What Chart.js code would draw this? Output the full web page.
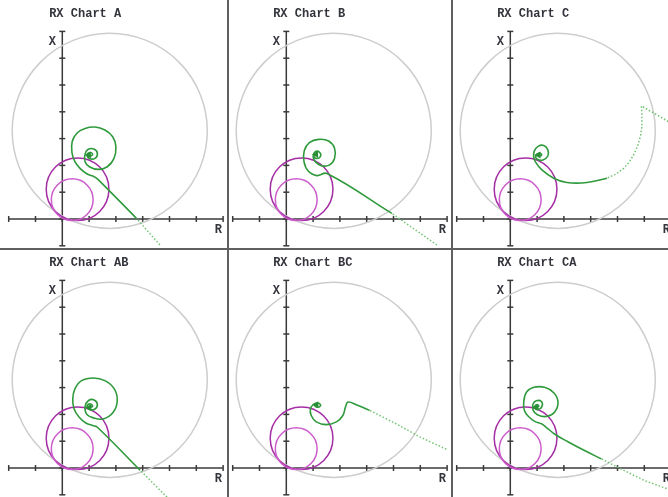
<!DOCTYPE html>
<html>
<head>
<meta charset="utf-8">
<script src="https://cdn.jsdelivr.net/npm/chart.js@4.4.1/dist/chart.umd.min.js"></script>
<style>
  html, body { margin: 0; padding: 0; background: #fff; overflow: hidden; width: 668px; height: 497px; }
  canvas { position: absolute; }
  .vline { position: absolute; top: 0; width: 2px; height: 497px; background: #606060; }
  .hline { position: absolute; left: 0; height: 2px; width: 668px; background: #606060; }
</style>
</head>
<body>
<div id="wrap"></div>
<script>
// panel titles
const panelTitles = ['RX Chart A', 'RX Chart B', 'RX Chart C', 'RX Chart AB', 'RX Chart BC', 'RX Chart CA'];

// axis ticks (R and X units)
const rTicks = [-2, -1, 0, 1, 2, 3, 4, 5, 6];
const xTicks = [-1, 0, 1, 2, 3, 4, 5, 6, 7];

// characteristic circles: [centre R, centre X, radius]
const outerCircle = [1.77, 3.29, 3.64];
const zoneCircle2 = [0.57, 1.11, 1.17];
const zoneCircle1 = [0.37, 0.72, 0.78];

// impedance trajectories: dotted fast part (tail) and solid part (body)
const tailA = [[3.64, -0.97], [2.77, 0.02]];
const bodyA = [[2.77, 0.02], [1.32, 1.49], [1.19, 1.58], [0.93, 1.68], [0.66, 1.89], [0.47, 2.14], [0.36, 2.48],
  [0.37, 2.89], [0.56, 3.22], [0.85, 3.38], [1.22, 3.43], [1.59, 3.32], [1.88, 3.07], [2.0, 2.70], [1.93, 2.26],
  [1.68, 1.95], [1.34, 1.85], [1.01, 1.95], [0.85, 2.14], [0.85, 2.43], [0.97, 2.60], [1.18, 2.61], [1.31, 2.45],
  [1.22, 2.26], [1.01, 2.26], [0.93, 2.39], [1.03, 2.48], [1.13, 2.43], [1.06, 2.35], [0.99, 2.39]];

const tailB = [[5.62, -0.97], [3.94, 0.21]];
const bodyB = [[3.94, 0.21], [1.52, 1.70], [1.14, 1.62], [0.81, 1.80], [0.66, 2.14], [0.67, 2.55], [0.86, 2.85],
  [1.21, 2.97], [1.58, 2.91], [1.80, 2.64], [1.80, 2.26], [1.60, 2.01], [1.31, 1.99], [1.08, 2.14], [1.00, 2.33],
  [1.08, 2.51], [1.24, 2.49], [1.27, 2.33], [1.11, 2.26], [1.02, 2.36], [1.11, 2.41]];

const tailC = [[6.4, 3.5], [5.91, 3.63], [4.89, 4.22], [4.91, 3.94], [4.91, 3.45], [4.86, 3.10], [4.75, 2.72],
  [4.60, 2.39], [4.42, 2.10], [4.23, 1.89], [3.95, 1.68], [3.61, 1.52]];
const bodyC = [[3.61, 1.52], [2.86, 1.36], [2.11, 1.36], [1.62, 1.52], [1.18, 1.83], [0.93, 2.14], [0.87, 2.33],
  [0.90, 2.55], [1.05, 2.72], [1.25, 2.74], [1.40, 2.58], [1.40, 2.35], [1.22, 2.20], [1.02, 2.22], [0.95, 2.35],
  [1.08, 2.46], [1.17, 2.40], [1.08, 2.35], [1.05, 2.39]];

const tailAB = [[4.0, -1.18], [2.9, -0.08]];
const bodyAB = [[2.9, -0.08], [1.31, 1.52], [1.16, 1.58], [0.88, 1.68], [0.63, 1.89], [0.44, 2.20], [0.39, 2.57],
  [0.47, 2.95], [0.72, 3.26], [1.16, 3.36], [1.59, 3.26], [1.94, 2.95], [2.05, 2.51], [1.90, 2.08], [1.53, 1.83],
  [1.16, 1.87], [0.91, 2.01], [0.85, 2.29], [0.97, 2.51], [1.19, 2.54], [1.31, 2.36], [1.19, 2.18], [0.98, 2.20],
  [0.93, 2.33], [1.06, 2.39], [1.13, 2.30], [1.01, 2.26]];

const tailBC = [[5.97, 0.70], [4.98, 1.16], [4.10, 1.65], [3.11, 2.15]];
const bodyBC = [[3.11, 2.15], [2.61, 2.36], [2.30, 2.46], [2.21, 2.28], [2.11, 1.96], [1.87, 1.72], [1.49, 1.62],
  [1.12, 1.72], [0.93, 1.96], [0.90, 2.20], [1.00, 2.36], [1.15, 2.42], [1.28, 2.36], [1.22, 2.28], [1.08, 2.30],
  [1.12, 2.36]];

const tailCA = [[6.3, -1.0], [5.87, -0.78], [5.01, -0.47], [4.14, -0.04], [3.40, 0.34]];
const bodyCA = [[3.40, 0.34], [2.77, 0.65], [2.15, 0.98], [1.65, 1.27], [1.34, 1.52], [1.18, 1.64], [0.91, 1.74],
  [0.68, 1.92], [0.53, 2.14], [0.50, 2.45], [0.60, 2.82], [0.88, 3.01], [1.28, 3.01], [1.63, 2.80], [1.78, 2.45],
  [1.65, 2.08], [1.34, 1.92], [1.01, 1.99], [0.85, 2.16], [0.85, 2.39], [0.97, 2.51], [1.16, 2.48], [1.18, 2.29],
  [1.03, 2.18], [0.91, 2.26], [0.97, 2.36], [1.07, 2.30], [0.97, 2.27]];

const tails = [tailA, tailB, tailC, tailAB, tailBC, tailCA];
const bodies = [bodyA, bodyB, bodyC, bodyAB, bodyBC, bodyCA];

// layout of the 3x2 grid
const PANEL_W = 224, PANEL_H = 249, UNIT = 26.8;
const ORIGIN_X = 58.3, ORIGIN_Y = 219;

const pts = arr => arr.map(p => ({ x: p[0], y: p[1] }));

// circle radius in pixels from the x scale
const circleRadius = ctx => {
  const s = ctx.chart.scales.x;
  if (!s || !ctx.raw) return 0;
  return Math.abs(s.getPixelForValue(ctx.raw.r) - s.getPixelForValue(0));
};
const circleSet = (c, color) => ({
  data: [{ x: c[0], y: c[1], r: c[2] }],
  showLine: false,
  pointStyle: 'circle',
  pointRadius: circleRadius,
  pointBackgroundColor: 'rgba(0,0,0,0)',
  pointBorderColor: color,
  pointBorderWidth: 1.5
});

const textPlugin = {
  id: 'rxText',
  afterDatasetsDraw(chart, args, opts) {
    const { ctx, scales: { x, y } } = chart;
    ctx.save();
    ctx.font = 'bold 12px "Liberation Mono", "DejaVu Sans Mono", monospace';
    ctx.fillStyle = '#33343c';
    ctx.textBaseline = 'middle';
    ctx.textAlign = 'left';
    ctx.fillText(opts.title, x.getPixelForValue(-0.49), y.getPixelForValue(7.66));
    ctx.textAlign = 'center';
    ctx.fillText('X', x.getPixelForValue(-0.37), y.getPixelForValue(6.59));
    ctx.fillText('R', x.getPixelForValue(5.82), y.getPixelForValue(-0.42));
    ctx.restore();
  }
};

const wrap = document.getElementById('wrap');

panelTitles.forEach((title, i) => {
  const col = i % 3, row = Math.floor(i / 3);
  const cv = document.createElement('canvas');
  cv.width = PANEL_W; cv.height = PANEL_H;
  cv.style.left = (4 + col * PANEL_W) + 'px';
  cv.style.top = (row * PANEL_H) + 'px';
  wrap.appendChild(cv);

  const body = pts(bodies[i]);
  new Chart(cv, {
    type: 'scatter',
    data: {
      datasets: [
        {
          data: body,
          showLine: true,
          tension: 0.4,
          borderColor: '#2f9a3c',
          borderWidth: 1.6,
          pointStyle: 'triangle',
          pointRotation: -90,
          pointRadius: ctx => (ctx.dataIndex === body.length - 1 ? 2.5 : 0),
          pointBackgroundColor: '#2a8f36',
          pointBorderColor: '#2a8f36'
        },
        {
          data: pts(tails[i]),
          showLine: true,
          tension: 0,
          borderColor: '#72c472',
          borderWidth: 1.5,
          borderDash: [1.5, 2],
          pointRadius: 0
        },
        circleSet(zoneCircle1, '#cc5ccc'),
        circleSet(zoneCircle2, '#a52ea5'),
        circleSet(outerCircle, '#cdcdcd'),
        {
          data: rTicks.map(v => ({ x: v, y: 0 })),
          showLine: false,
          pointStyle: 'line',
          pointRotation: 90,
          pointRadius: 3,
          pointBorderColor: '#3a3a3a',
          pointBorderWidth: 1.5
        },
        {
          data: xTicks.map(v => ({ x: 0, y: v })),
          showLine: false,
          pointStyle: 'line',
          pointRadius: 3,
          pointBorderColor: '#3a3a3a',
          pointBorderWidth: 1.5
        },
        {
          data: [{ x: rTicks[0], y: 0 }, { x: rTicks[rTicks.length - 1], y: 0 }],
          showLine: true, pointRadius: 0, borderColor: '#3a3a3a', borderWidth: 1.5
        },
        {
          data: [{ x: 0, y: xTicks[0] }, { x: 0, y: xTicks[xTicks.length - 1] }],
          showLine: true, pointRadius: 0, borderColor: '#3a3a3a', borderWidth: 1.5
        }
      ]
    },
    options: {
      responsive: false,
      animation: false,
      events: [],
      devicePixelRatio: 1,
      layout: { padding: 0, autoPadding: false },
      scales: {
        x: { type: 'linear', display: false, bounds: 'data', min: -ORIGIN_X / UNIT, max: (PANEL_W - ORIGIN_X) / UNIT },
        y: { type: 'linear', display: false, bounds: 'data', min: -(PANEL_H - ORIGIN_Y) / UNIT, max: ORIGIN_Y / UNIT }
      },
      plugins: {
        legend: { display: false },
        tooltip: { enabled: false },
        rxText: { title: title }
      }
    },
    plugins: [textPlugin]
  });
});

// panel dividers
[227, 451].forEach(x => {
  const d = document.createElement('div');
  d.className = 'vline'; d.style.left = x + 'px';
  wrap.appendChild(d);
});
const h = document.createElement('div');
h.className = 'hline'; h.style.top = '248px';
wrap.appendChild(h);
</script>
</body>
</html>
